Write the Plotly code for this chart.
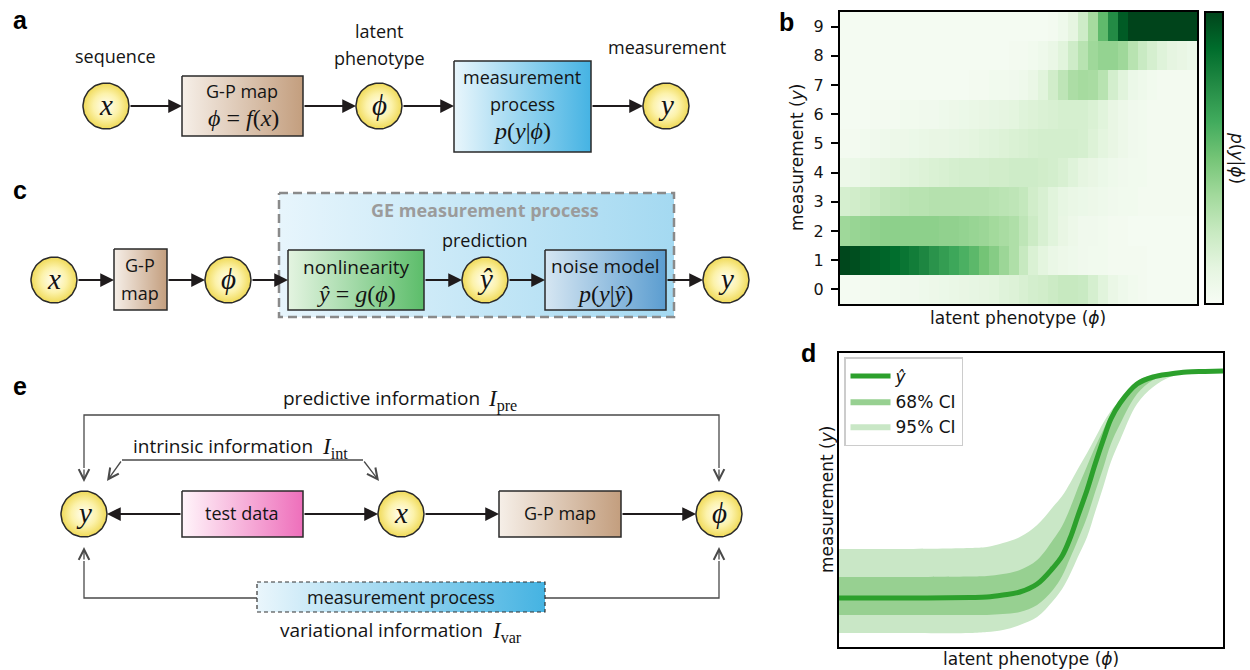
import numpy as np
import plotly.graph_objects as go

# ------------------------------------------------------------------
# DATA -- panel b : p(y | phi) heat map (rows = measurement y, columns = phi bins)
# values are colour intensities read from the picture (0 = white, 1 = darkest)
# ------------------------------------------------------------------
y_levels = [0, 1, 2, 3, 4, 5, 6, 7, 8, 9]
y_ticklabels = ["0", "1", "2", "3", "4", "5", "6", "7", "8", "9"]

p_y0 = [0.02, 0.02, 0.03, 0.03, 0.04, 0.04, 0.05, 0.05, 0.06, 0.07, 0.08, 0.09,
        0.10, 0.11, 0.12, 0.13, 0.15, 0.16, 0.18, 0.20, 0.21, 0.23, 0.25, 0.25,
        0.24, 0.19, 0.14, 0.09, 0.06, 0.04, 0.03, 0.02, 0.02, 0.02, 0.02, 0.02]
p_y1 = [0.99, 0.97, 0.94, 0.92, 0.90, 0.87, 0.84, 0.81, 0.77, 0.72, 0.68, 0.64,
        0.60, 0.56, 0.50, 0.45, 0.39, 0.33, 0.25, 0.17, 0.13, 0.09, 0.07, 0.06,
        0.05, 0.04, 0.04, 0.03, 0.03, 0.03, 0.03, 0.02, 0.02, 0.02, 0.02, 0.02]
p_y2 = [0.38, 0.40, 0.41, 0.42, 0.43, 0.43, 0.43, 0.43, 0.43, 0.43, 0.42, 0.42,
        0.41, 0.40, 0.39, 0.37, 0.35, 0.33, 0.28, 0.23, 0.18, 0.14, 0.10, 0.07,
        0.05, 0.05, 0.04, 0.03, 0.03, 0.02, 0.02, 0.02, 0.02, 0.02, 0.02, 0.02]
p_y3 = [0.19, 0.21, 0.23, 0.25, 0.27, 0.28, 0.29, 0.30, 0.30, 0.31, 0.31, 0.31,
        0.31, 0.31, 0.31, 0.30, 0.29, 0.28, 0.26, 0.21, 0.18, 0.14, 0.11, 0.09,
        0.08, 0.07, 0.06, 0.05, 0.04, 0.04, 0.03, 0.03, 0.03, 0.03, 0.03, 0.03]
p_y4 = [0.07, 0.08, 0.09, 0.11, 0.12, 0.13, 0.14, 0.15, 0.16, 0.17, 0.18, 0.19,
        0.20, 0.20, 0.20, 0.21, 0.21, 0.22, 0.22, 0.22, 0.21, 0.20, 0.18, 0.15,
        0.12, 0.10, 0.08, 0.06, 0.05, 0.04, 0.04, 0.03, 0.03, 0.03, 0.03, 0.03]
p_y5 = [0.03, 0.03, 0.04, 0.05, 0.06, 0.07, 0.07, 0.08, 0.09, 0.10, 0.10, 0.11,
        0.12, 0.13, 0.14, 0.15, 0.16, 0.17, 0.18, 0.19, 0.20, 0.20, 0.20, 0.20,
        0.19, 0.16, 0.13, 0.10, 0.07, 0.05, 0.04, 0.03, 0.03, 0.03, 0.03, 0.03]
p_y6 = [0.02, 0.02, 0.02, 0.03, 0.03, 0.03, 0.04, 0.04, 0.05, 0.05, 0.06, 0.07,
        0.08, 0.09, 0.10, 0.11, 0.12, 0.13, 0.15, 0.16, 0.17, 0.18, 0.19, 0.19,
        0.19, 0.17, 0.14, 0.10, 0.07, 0.05, 0.04, 0.03, 0.03, 0.03, 0.03, 0.03]
p_y7 = [0.02, 0.02, 0.02, 0.02, 0.02, 0.02, 0.02, 0.02, 0.02, 0.02, 0.02, 0.02,
        0.02, 0.03, 0.03, 0.04, 0.04, 0.05, 0.06, 0.09, 0.14, 0.21, 0.28, 0.34,
        0.36, 0.35, 0.30, 0.20, 0.14, 0.08, 0.06, 0.04, 0.03, 0.03, 0.03, 0.03]
p_y8 = [0.02, 0.02, 0.02, 0.02, 0.02, 0.02, 0.02, 0.02, 0.02, 0.02, 0.02, 0.02,
        0.02, 0.02, 0.02, 0.02, 0.02, 0.03, 0.03, 0.04, 0.06, 0.09, 0.14, 0.22,
        0.30, 0.38, 0.41, 0.41, 0.38, 0.30, 0.24, 0.19, 0.15, 0.12, 0.10, 0.08]
p_y9 = [0.02, 0.02, 0.02, 0.02, 0.02, 0.02, 0.02, 0.02, 0.02, 0.02, 0.02, 0.02,
        0.02, 0.02, 0.02, 0.02, 0.02, 0.02, 0.02, 0.02, 0.02, 0.03, 0.06, 0.12,
        0.22, 0.36, 0.55, 0.75, 0.93, 1.00, 1.00, 1.00, 1.00, 1.00, 1.00, 1.00]
heat_rows = [p_y0, p_y1, p_y2, p_y3, p_y4, p_y5, p_y6, p_y7, p_y8, p_y9]

# ------------------------------------------------------------------
# DATA -- panel d : nonlinearity y_hat(phi) with credible intervals
# ------------------------------------------------------------------
phi_d = [0.000, 0.159, 0.341, 0.385, 0.427, 0.471, 0.516, 0.557, 0.581, 0.602,
         0.622, 0.646, 0.667, 0.688, 0.708, 0.732, 0.776, 0.818, 0.862, 0.906,
         0.953, 1.000]
yhat = [1.667, 1.667, 1.684, 1.701, 1.769, 1.871, 2.143, 2.687, 3.095, 3.707,
        4.456, 5.340, 6.224, 7.041, 7.755, 8.299, 8.946, 9.184, 9.286, 9.354,
        9.371, 9.388]
ci68_hi = [2.381, 2.381, 2.398, 2.415, 2.483, 2.619, 2.959, 3.639, 4.116, 4.728,
           5.408, 6.156, 6.803, 7.381, 7.925, 8.367, 9.014, 9.218, 9.320, 9.388,
           9.405, 9.422]
ci68_lo = [1.088, 1.088, 1.088, 1.088, 1.122, 1.190, 1.429, 1.939, 2.415, 3.027,
           3.639, 4.422, 5.272, 6.088, 6.905, 7.585, 8.605, 9.082, 9.235, 9.320,
           9.337, 9.354]
ci95_hi = [3.333, 3.333, 3.367, 3.401, 3.537, 3.741, 4.150, 4.762, 5.136, 5.578,
           6.054, 6.599, 7.109, 7.619, 8.027, 8.401, 9.048, 9.252, 9.354, 9.405,
           9.422, 9.439]
ci95_lo = [0.476, 0.476, 0.476, 0.510, 0.578, 0.748, 1.020, 1.565, 1.973, 2.483,
           3.061, 3.741, 4.592, 5.442, 6.293, 7.041, 8.265, 8.844, 9.184, 9.303,
           9.320, 9.320]
legend_names = ["<i>ŷ</i>", "68% CI", "95% CI"]

# ------------------------------------------------------------------
# styles
# ------------------------------------------------------------------
W, H = 1250, 670
INK = "#2a2a2a"
SANS = "Open Sans"
SERIF = "Liberation Serif"
MPL = "DejaVu Sans"
GREENS = [[0, "#f7fcf5"], [0.125, "#e5f5e0"], [0.25, "#c7e9c0"], [0.375, "#a1d99b"],
          [0.5, "#74c476"], [0.625, "#41ab5d"], [0.75, "#238b45"], [0.875, "#006d2c"],
          [1, "#00441b"]]
TAN = ("#f6efe8", "#c39e7e")
BLUE = ("#e9f6fc", "#45b3e3")

fig = go.Figure()


def box(x0, y0, x1, y1, cols, lw=1.5, lc=INK, dash="solid"):
    fig.add_trace(go.Scatter(
        x=[x0, x1, x1, x0, x0], y=[y0, y0, y1, y1, y0], mode="lines", fill="toself",
        fillgradient=dict(type="horizontal", colorscale=[[0, cols[0]], [1, cols[1]]]),
        line=dict(color=lc, width=lw, dash=dash), hoverinfo="skip", showlegend=False,
        xaxis="x", yaxis="y"))


def txt(x, y, s, size=18, color="#141414", family=SANS, angle=0, anchor="center"):
    fig.add_annotation(x=x, y=y, xref="x", yref="y", text=s, showarrow=False,
                       textangle=angle, xanchor=anchor, yanchor="middle",
                       font=dict(size=size, color=color, family=family))


def math(x, y, s, size=23, anchor="center"):
    txt(x, y, s, size=size, family=SERIF, anchor=anchor)


def node(cx, cy, label, r=23):
    t = np.linspace(0, 2 * np.pi, 90)
    fig.add_trace(go.Scatter(
        x=cx + r * np.cos(t), y=cy + r * np.sin(t), mode="lines", fill="toself",
        fillgradient=dict(type="radial", colorscale=[[0, "#fffef4"], [0.55, "#fcf2aa"],
                                                     [1, "#f0da58"]]),
        line=dict(color=INK, width=1.5), hoverinfo="skip", showlegend=False,
        xaxis="x", yaxis="y"))
    math(cx, cy - 1, label, size=29)


def arrow(x0, y0, x1, y1, width=2.2, head=2, size=1.25, color="#1f1b1c"):
    fig.add_annotation(x=x1, y=y1, ax=x0, ay=y0, xref="x", yref="y", axref="x", ayref="y",
                       text="", showarrow=True, arrowhead=head, arrowsize=size,
                       arrowwidth=width, arrowcolor=color, standoff=0, startstandoff=0)


def thin(xs, ys, color="#4a4a4a"):
    fig.add_trace(go.Scatter(x=xs, y=ys, mode="lines", line=dict(color=color, width=1.3),
                             hoverinfo="skip", showlegend=False, xaxis="x", yaxis="y"))


def thin_arrow(x0, y0, x1, y1):
    arrow(x0, y0, x1, y1, width=1.3, head=5, size=1.6, color="#4a4a4a")


# ---------------- panel a ----------------
txt(115, 56, "sequence")
txt(379, 31, "latent")
txt(379, 58, "phenotype")
txt(667, 47, "measurement")
node(106, 106, "<i>x</i>")
box(182, 76, 303, 136, TAN)
txt(242, 91, "G-P map")
math(243, 118, "<i>ϕ</i> = <i>f</i>(<i>x</i>)", size=24)
node(379, 106, "<i>ϕ</i>")
box(454, 61, 591, 152, BLUE)
txt(522, 77, "measurement")
txt(522, 104, "process")
math(522, 131, "<i>p</i>(<i>y</i>|<i>ϕ</i>)", size=24)
node(666, 106, "<i>y</i>")
arrow(129, 106, 182, 106)
arrow(303, 106, 356, 106)
arrow(402, 106, 454, 106)
arrow(591, 106, 643, 106)

# ---------------- panel c ----------------
box(279, 193, 674, 317, ("#e7f5fc", "#a4d9f1"), lw=2.5, lc="#8a8a8a", dash="9px,5px")
txt(485, 210, "<b>GE measurement process</b>", size=18, color="#9b9b9b")
txt(484, 240, "prediction")
node(54, 280, "<i>x</i>")
box(114, 249, 167, 310, TAN)
txt(140, 265, "G-P")
txt(140, 293, "map")
node(228, 280, "<i>ϕ</i>")
box(288, 250, 424, 310, ("#e4f4e1", "#5cbd6a"))
txt(356, 267, "nonlinearity", size=19)
math(356, 294, "<i>ŷ</i> = <i>g</i>(<i>ϕ</i>)", size=24)
node(485, 280, "<i>ŷ</i>")
box(545, 250, 666, 310, ("#d6e6f2", "#5b9dd0"))
txt(605, 266, "noise model", size=19)
math(605, 294, "<i>p</i>(<i>y</i>|<i>ŷ</i>)", size=24)
node(726, 280, "<i>y</i>")
arrow(77, 280, 114, 280)
arrow(167, 280, 205, 280)
arrow(251, 280, 288, 280)
arrow(424, 280, 462, 280)
arrow(508, 280, 545, 280)
arrow(666, 280, 703, 280)

# ---------------- panel e ----------------
txt(482, 398, "predictive information", size=19, anchor="right")
math(486, 400, "<i>I</i><sub>pre</sub>", size=23, anchor="left")
txt(315, 446, "intrinsic information", size=19, anchor="right")
math(320, 448, "<i>I</i><sub>int</sub>", size=23, anchor="left")
txt(485, 630, "variational information", size=19, anchor="right")
math(490, 632, "<i>I</i><sub>var</sub>", size=23, anchor="left")
thin([84, 84, 719, 719], [468, 415, 415, 468])
thin_arrow(84, 468, 84, 482)
thin_arrow(719, 468, 719, 482)
thin([122, 363], [460, 460])
thin_arrow(122, 460, 107, 481)
thin_arrow(363, 460, 379, 481)
thin([257, 84, 84], [598, 598, 561])
thin([545, 719, 719], [598, 598, 561])
thin_arrow(84, 561, 84, 547)
thin_arrow(719, 561, 719, 547)
box(257, 582, 545, 612, ("#eaf6fc", "#45b3e2"), lw=1.2, lc="#333333", dash="4px,3px")
txt(401, 597, "measurement process")
node(84, 514, "<i>y</i>")
box(182, 491, 303, 537, ("#fff5fa", "#ee6fbb"))
txt(242, 513, "test data")
node(401, 514, "<i>x</i>")
box(499, 491, 621, 537, TAN)
txt(560, 513, "G-P map")
node(719, 514, "<i>ϕ</i>")
arrow(182, 514, 107, 514)
arrow(303, 514, 378, 514)
arrow(424, 514, 499, 514)
arrow(621, 514, 696, 514)

# ---------------- panel b : heat map ----------------
fig.add_trace(go.Heatmap(
    z=heat_rows, y=y_levels, x0=1 / 72, dx=1 / 36, colorscale=GREENS, zmin=0, zmax=1,
    zsmooth=False, xaxis="x2", yaxis="y2", hoverinfo="skip",
    colorbar=dict(x=1205 / W, xanchor="left", xpad=0, y=1 - 12 / H, yanchor="top", ypad=0,
                  len=292 / H, lenmode="fraction", thickness=18, thicknessmode="pixels",
                  outlinewidth=2, outlinecolor="black", showticklabels=False, ticks="")))
txt(1018, 318, "latent phenotype (<i>ϕ</i>)", size=17, family=MPL)
txt(797, 158, "measurement (<i>y</i>)", size=17, family=MPL, angle=-90)
txt(1237, 158, "<i>p</i>(<i>y</i>|<i>ϕ</i>)", size=17, family=MPL, angle=90)

# ---------------- panel d : nonlinearity with CIs ----------------
band95, band68, line_c = "#c9e7c6", "#97d091", "#2ca02c"
fig.add_trace(go.Scatter(x=phi_d, y=ci95_lo, mode="lines", line=dict(width=0, shape="spline"),
                         showlegend=False, hoverinfo="skip", xaxis="x3", yaxis="y3"))
fig.add_trace(go.Scatter(x=phi_d, y=ci95_hi, mode="lines", line=dict(width=0, shape="spline"),
                         fill="tonexty", fillcolor=band95, name=legend_names[2], legendrank=3,
                         hoverinfo="skip", xaxis="x3", yaxis="y3"))
fig.add_trace(go.Scatter(x=phi_d, y=ci68_lo, mode="lines", line=dict(width=0, shape="spline"),
                         showlegend=False, hoverinfo="skip", xaxis="x3", yaxis="y3"))
fig.add_trace(go.Scatter(x=phi_d, y=ci68_hi, mode="lines", line=dict(width=0, shape="spline"),
                         fill="tonexty", fillcolor=band68, name=legend_names[1], legendrank=2,
                         hoverinfo="skip", xaxis="x3", yaxis="y3"))
fig.add_trace(go.Scatter(x=phi_d, y=yhat, mode="lines",
                         line=dict(width=5, color=line_c, shape="spline"),
                         name=legend_names[0], legendrank=1, hoverinfo="skip",
                         xaxis="x3", yaxis="y3"))
txt(1031, 659, "latent phenotype (<i>ϕ</i>)", size=17, family=MPL)
txt(827, 500, "measurement (<i>y</i>)", size=17, family=MPL, angle=-90)

# ---------------- panel letters ----------------
for lab, lx, ly in [("a", 20, 20), ("b", 786, 22), ("c", 20, 190), ("d", 808, 353), ("e", 20, 386)]:
    txt(lx, ly, "<b>%s</b>" % lab, size=25, color="#000", family="Liberation Sans")

# ---------------- layout ----------------
frame = dict(showline=True, mirror=True, linecolor="black", linewidth=2, showgrid=False,
             zeroline=False)
fig.update_layout(
    width=W, height=H, margin=dict(l=0, r=0, t=0, b=0),
    paper_bgcolor="white", plot_bgcolor="rgba(0,0,0,0)",
    font=dict(family=SANS, size=18, color="#141414"),
    xaxis=dict(domain=[0, 1], range=[0, W], visible=False, fixedrange=True),
    yaxis=dict(domain=[0, 1], range=[H, 0], visible=False, fixedrange=True),
    xaxis2=dict(domain=[840 / W, 1197 / W], range=[0, 1], anchor="y2",
                showticklabels=False, ticks="", **frame),
    yaxis2=dict(domain=[1 - 304 / H, 1 - 12 / H], range=[-0.5, 9.5], anchor="x2",
                tickvals=y_levels, ticktext=y_ticklabels, ticks="outside", ticklen=7,
                tickwidth=1.5, tickcolor="black", ticklabelstandoff=4,
                tickfont=dict(family=MPL, size=16, color="#141414"), **frame),
    xaxis3=dict(domain=[839 / W, 1223 / W], range=[0, 1], anchor="y3",
                showticklabels=False, ticks="", **frame),
    yaxis3=dict(domain=[1 - 647 / H, 1 - 353 / H], range=[0, 10], anchor="x3",
                showticklabels=False, ticks="", **frame),
    showlegend=True,
    legend=dict(x=844 / W, y=1 - 357 / H, xanchor="left", yanchor="top",
                traceorder="normal",
                bgcolor="rgba(255,255,255,0.85)", bordercolor="#cccccc", borderwidth=1.5,
                font=dict(family=MPL, size=17, color="#141414"), tracegroupgap=0,
                itemwidth=40),
)

fig.write_html("out.html")
